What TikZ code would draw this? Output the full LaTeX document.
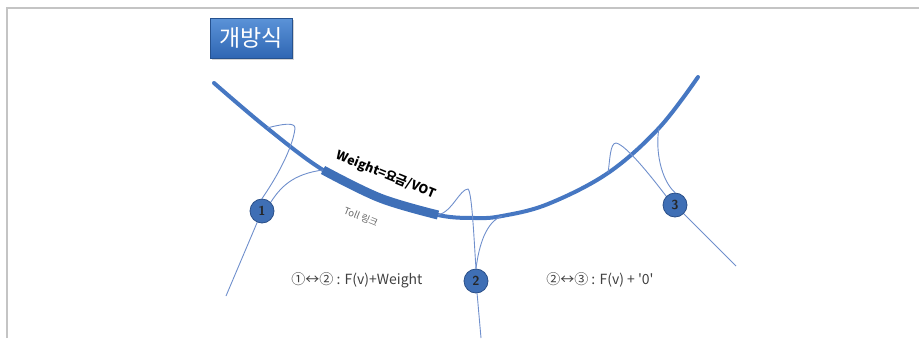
\documentclass[tikz,border=0pt]{standalone}
\usepackage{fontspec}
\newfontfamily\cjk{Noto Sans CJK KR}
\usetikzlibrary{shadows}
\definecolor{curveblue}{HTML}{4677C2}
\definecolor{thickblue}{HTML}{3F70B8}
\definecolor{linkblue}{HTML}{6F8FCC}
\definecolor{nodeblue}{HTML}{3F6FB5}
\definecolor{nodeedge}{HTML}{2A4F88}
\definecolor{boxtop}{HTML}{5B93D8}
\definecolor{boxbot}{HTML}{2F66B3}
\definecolor{framegray}{HTML}{C4C4C4}
\definecolor{labelgray}{HTML}{404040}
\tikzset{
  link/.style={draw=linkblue, line width=0.9pt},
  mainline/.style={draw=curveblue, line width=4pt, line cap=round},
  thickseg/.style={draw=thickblue, line width=9pt, line cap=butt},
  numnode/.style={circle, fill=nodeblue, draw=nodeedge, line width=0.8pt,
    minimum width=22pt, minimum height=24pt, inner sep=0pt, font=\sffamily\bfseries\fontsize{13}{13}\selectfont, text=black!85},
  eqlabel/.style={font=\cjk\fontsize{14}{15}\selectfont, text=labelgray, inner sep=0pt},
}
\begin{document}
\begin{tikzpicture}[x=1pt,y=-1pt]
\useasboundingbox (0,0) rectangle (919,338);
% frame
\draw[framegray, line width=1.6pt] (7,338) -- (7,8) -- (919,8);
% title box
\node[rectangle, minimum width=82pt, minimum height=40pt, inner sep=0pt,
  top color=boxtop, bottom color=boxbot, draw=boxbot!80!black, line width=0.5pt,
  drop shadow={shadow xshift=1.5pt, shadow yshift=-2pt, opacity=0.35},
  font=\cjk\fontsize{23}{23}\selectfont, text=white] (title) at (251,38) {개방식};
% curve points
\coordinate (p0) at (214,83);
\coordinate (c1a) at (267,128);
\coordinate (c1b) at (323,170);
\coordinate (m1) at (380,198);
\coordinate (c2a) at (438,215);
\coordinate (bt) at (475,218);
\coordinate (c2b) at (502,216);
\coordinate (m2) at (548,204);
\coordinate (c3a) at (608,173);
\coordinate (c3b) at (659,128);
\coordinate (pe) at (698,77);
% main curve
\draw[mainline] plot[smooth, tension=0.6] coordinates {(p0) (c1a) (c1b) (m1) (c2a) (bt) (c2b) (m2) (c3a) (c3b) (pe)};
\draw[thickseg] plot[smooth, tension=0.6] coordinates {(c1b) (m1) (c2a)};
% nodes
\node[numnode] (n1) at (262,211) {1};
\node[numnode] (n2) at (476,281) {2};
\node[numnode] (n3) at (675,205) {3};
% free ends
\coordinate (e1) at (226,296);
\coordinate (e2) at (481,338);
\coordinate (e3) at (736,266);
% connectors
\draw[link] (n1) -- (e1);
\draw[link] (n2) -- (e2);
\draw[link] (n3) -- (e3);
\draw[link] (n1.north) .. controls (285,165) and (294,140) .. (295,128)
  .. controls (295,122) and (282,124) .. (c1a);
\draw[link] (n1.north east) .. controls (280,188) and (292,174) .. (c1b);
\draw[link] (c2a) .. controls (452,212) and (460,189) .. (468,189)
  .. controls (472,192) and (474,240) .. (n2.north);
\draw[link] (n2.north) .. controls (479,245) and (486,222) .. (c2b);
\draw[link] (c3a) .. controls (610,160) and (610,143) .. (616,143)
  .. controls (626,145) and (650,175) .. (n3.north west);
\draw[link] (n3.north) .. controls (661,180) and (655,150) .. (c3b);
% texts
\node[font=\cjk\bfseries\fontsize{12.5}{13}\selectfont, rotate=-22, inner sep=0pt] (w) at (386,175) {Weight=요금/VOT};
\node[font=\cjk\fontsize{9.5}{10}\selectfont, text=black!60, rotate=-22, inner sep=0pt] (toll) at (361,217) {Toll 링크};
\node[eqlabel] (eq1) at (357,280) {①↔② : F(v)+Weight};
\node[eqlabel] (eq2) at (600,280) {②↔③ : F(v) + '0'};
\end{tikzpicture}
\end{document}
